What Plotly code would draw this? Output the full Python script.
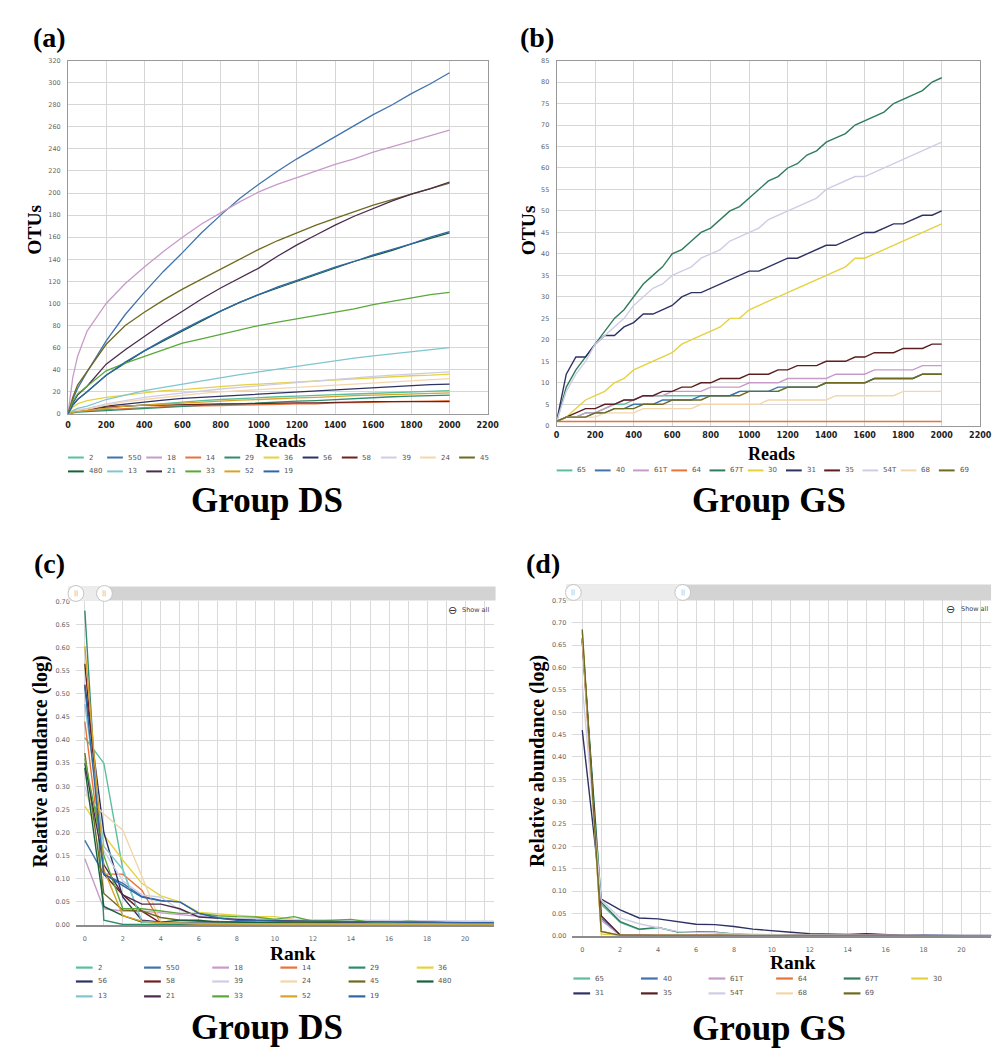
import plotly.graph_objects as go

W, H = 1008, 1050

# ---------------- (a) Group DS rarefaction: OTUs vs reads ----------------
reads_ds = [0, 25, 50, 100, 200, 300, 400, 500, 600, 700, 800, 900, 1000,
            1100, 1200, 1300, 1400, 1500, 1600, 1700, 1800, 1900, 2000]
ds_names = ["2", "550", "18", "14", "29", "36", "56", "58", "39", "24", "45",
            "480", "13", "21", "33", "52", "19"]
ds_colors = ["#5bbf9e", "#3f73ad", "#c79bc9", "#e8733a", "#2f8c6b", "#e5d23f",
             "#2d3263", "#6e2121", "#cfcde6", "#f3d6ab", "#6e6a1f", "#17603a",
             "#7fc6cf", "#4b2b4d", "#5aa83a", "#d8a326", "#2e66a8"]
otu_2 = [0, 1, 2, 3, 5, 7, 8, 9.5, 11, 12, 13, 14, 15, 15.5, 16, 17, 17.5, 18, 18.5, 19, 20, 20.5, 21]
otu_550 = [0, 13, 23, 38, 66, 90, 110, 129, 146, 164, 180, 195, 208, 220, 231, 241, 251, 261, 271, 280, 290, 299, 309]
otu_18 = [0, 33, 52, 75, 100, 118, 133, 147, 160, 172, 182, 192, 201, 208, 214, 220, 226, 231, 237, 242, 247, 252, 257]
otu_14 = [0, 1.5, 2.5, 3, 4, 5, 6, 6.5, 7, 7, 7.5, 8, 8, 8.5, 9, 9, 10, 10, 10.5, 11, 11, 11.5, 12]
otu_29 = [0, 1, 1.5, 2, 3, 4, 5, 6, 7, 8, 8.5, 9, 10, 11, 11.5, 12, 13, 14, 15, 15.5, 16, 16.5, 17]
otu_36 = [0, 6, 9, 12, 15, 17, 19, 21, 22, 23.5, 25, 26, 27, 28, 29, 30, 31, 32, 33, 34, 34.5, 35, 36]
otu_56 = [0, 2, 3, 4, 7, 9, 11, 12.5, 14, 15, 16, 17, 18, 19, 20, 21, 22, 23, 24, 25, 26, 26.5, 27]
otu_58 = [0, 2, 3, 4, 6, 7, 8, 8, 8.5, 9, 9, 9, 9.5, 10, 10, 10, 10.5, 11, 11, 11, 11, 11, 11]
otu_39 = [0, 2, 3.5, 5, 9, 12, 15, 17, 19, 21, 22.5, 24, 25.5, 27, 28.5, 30, 31, 32.5, 34, 35, 36, 37, 38]
otu_24 = [0, 2, 3, 4, 8, 11, 13, 15, 17, 18.5, 20, 21, 22, 23.5, 24.5, 25.5, 26.5, 27.5, 28.5, 29.5, 30.5, 31, 32]
otu_45 = [0, 15, 26, 38, 63, 80, 92, 103, 113, 122, 131, 140, 149, 157, 164, 171, 177, 183, 189, 194, 199, 204, 209]
otu_480 = [0, 8, 13, 20, 35, 46, 57, 66, 75, 84, 93, 101, 108, 114, 120, 126, 132, 138, 143, 148, 154, 159, 164]
otu_13 = [0, 3, 5, 7, 13, 17, 21, 24, 27, 30, 33, 35.5, 38, 40.5, 43, 46, 48.5, 50.5, 52.5, 54.5, 56.5, 58.5, 60]
otu_21 = [0, 10, 17, 25, 45, 58, 70, 82, 93, 104, 114, 123, 132, 143, 153, 162, 171, 179, 186, 193, 199, 204, 210]
otu_33 = [0, 11, 18, 25, 39, 46, 52, 58, 64, 68, 72, 76, 80, 83, 86, 89, 92, 95, 99, 102, 105, 108, 110]
otu_52 = [0, 1.5, 2, 3, 5, 7, 8, 9, 10, 11, 12, 12.5, 13, 14, 14.5, 15, 16, 16.5, 17, 17.5, 18, 18.5, 19]
otu_19 = [0, 8, 13, 20, 35, 47, 57, 67, 76, 85, 93, 101, 108, 115, 121, 127, 133, 138, 144, 149, 154, 160, 165]
ds_otus = [otu_2, otu_550, otu_18, otu_14, otu_29, otu_36, otu_56, otu_58, otu_39,
           otu_24, otu_45, otu_480, otu_13, otu_21, otu_33, otu_52, otu_19]

# ---------------- (b) Group GS rarefaction ----------------
reads_gs = [0, 50, 100, 150, 200, 250, 300, 350, 400, 450, 500, 550, 600, 650, 700,
            750, 800, 850, 900, 950, 1000, 1050, 1100, 1150, 1200, 1250, 1300, 1350,
            1400, 1450, 1500, 1550, 1600, 1650, 1700, 1750, 1800, 1850, 1900, 1950, 2000]
gs_names = ["65", "40", "61T", "64", "67T", "30", "31", "35", "54T", "68", "69"]
gs_colors = ["#5bbf9e", "#3f73ad", "#c79bc9", "#e8733a", "#2f7d5d", "#e5d23f",
             "#2d3263", "#5a1e1e", "#cfcde6", "#f3d6ab", "#6e6a1f"]
gotu_65 = [1, 2, 2, 3, 3, 4, 5, 5, 6, 7, 7, 7, 7, 7, 7, 7, 7, 7, 7, 8, 8, 8, 8, 8, 9, 9, 9, 9, 10, 10, 10, 10, 10, 11, 11, 11, 11, 11, 12, 12, 12]
gotu_40 = [1, 2, 2, 2, 3, 3, 4, 4, 5, 5, 5, 6, 6, 6, 6, 7, 7, 7, 7, 8, 8, 8, 8, 9, 9, 9, 9, 9, 10, 10, 10, 10, 10, 11, 11, 11, 11, 11, 12, 12, 12]
gotu_61T = [1, 2, 2, 3, 3, 4, 5, 6, 6, 7, 7, 7, 8, 8, 8, 8, 9, 9, 9, 9, 10, 10, 10, 10, 11, 11, 11, 11, 11, 12, 12, 12, 12, 13, 13, 13, 13, 13, 14, 14, 14]
gotu_64 = [1, 1, 1, 1, 1, 1, 1, 1, 1, 1, 1, 1, 1, 1, 1, 1, 1, 1, 1, 1, 1, 1, 1, 1, 1, 1, 1, 1, 1, 1, 1, 1, 1, 1, 1, 1, 1, 1, 1, 1, 1]
gotu_67T = [1, 9, 13, 16, 19, 22, 25, 27, 30, 33, 35, 37, 40, 41, 43, 45, 46, 48, 50, 51, 53, 55, 57, 58, 60, 61, 63, 64, 66, 67, 68, 70, 71, 72, 73, 75, 76, 77, 78, 80, 81]
gotu_30 = [1, 2, 4, 6, 7, 8, 10, 11, 13, 14, 15, 16, 17, 19, 20, 21, 22, 23, 25, 25, 27, 28, 29, 30, 31, 32, 33, 34, 35, 36, 37, 39, 39, 40, 41, 42, 43, 44, 45, 46, 47]
gotu_31 = [1, 12, 16, 16, 19, 21, 21, 23, 24, 26, 26, 27, 28, 30, 31, 31, 32, 33, 34, 35, 36, 36, 37, 38, 39, 39, 40, 41, 42, 42, 43, 44, 45, 45, 46, 47, 47, 48, 49, 49, 50]
gotu_35 = [1, 2, 3, 4, 4, 5, 5, 6, 6, 7, 7, 8, 8, 9, 9, 10, 10, 11, 11, 11, 12, 12, 12, 13, 13, 14, 14, 14, 15, 15, 15, 16, 16, 17, 17, 17, 18, 18, 18, 19, 19]
gotu_54T = [1, 8, 12, 15, 19, 21, 23, 25, 28, 30, 32, 33, 35, 36, 37, 39, 40, 41, 43, 44, 45, 46, 48, 49, 50, 51, 52, 53, 55, 56, 57, 58, 58, 59, 60, 61, 62, 63, 64, 65, 66]
gotu_68 = [1, 2, 2, 2, 2, 3, 3, 3, 3, 4, 4, 4, 4, 4, 4, 5, 5, 5, 5, 5, 5, 5, 6, 6, 6, 6, 6, 6, 6, 7, 7, 7, 7, 7, 7, 7, 8, 8, 8, 8, 8]
gotu_69 = [1, 2, 2, 2, 3, 3, 4, 4, 4, 5, 5, 5, 6, 6, 6, 6, 7, 7, 7, 7, 8, 8, 8, 8, 9, 9, 9, 9, 10, 10, 10, 10, 10, 11, 11, 11, 11, 11, 12, 12, 12]
gs_otus = [gotu_65, gotu_40, gotu_61T, gotu_64, gotu_67T, gotu_30, gotu_31,
           gotu_35, gotu_54T, gotu_68, gotu_69]

# ---------------- (c) Group DS rank-abundance ----------------
rank = [0, 1, 2, 3, 4, 5, 6, 7, 8, 9, 10, 11, 12, 13, 14, 15, 16, 17, 18, 19, 20, 21, 22]
ra_2 = [0.405, 0.350, 0.120, 0.006, 0.004, 0.003, 0.003, 0.002, 0.002, 0.002, 0.002, 0.001, 0.001, 0.001, 0.001, 0.001, 0.001, 0.001, 0.001, 0.001, 0.001, 0.001, 0.001]
ra_550 = [0.183, 0.110, 0.090, 0.062, 0.053, 0.050, 0.025, 0.016, 0.012, 0.010, 0.009, 0.008, 0.008, 0.007, 0.007, 0.006, 0.006, 0.006, 0.005, 0.005, 0.005, 0.005, 0.005]
ra_18 = [0.143, 0.035, 0.030, 0.030, 0.026, 0.022, 0.018, 0.015, 0.013, 0.012, 0.011, 0.010, 0.010, 0.009, 0.009, 0.008, 0.008, 0.008, 0.008, 0.007, 0.007, 0.007, 0.007]
ra_14 = [0.440, 0.110, 0.110, 0.075, 0.004, 0.003, 0.002, 0.002, 0.002, 0.001, 0.001, 0.001, 0.001, 0.001, 0.001, 0.001, 0.001, 0.001, 0.001, 0.001, 0.001, 0.001, 0.001]
ra_29 = [0.680, 0.010, 0.001, 0.001, 0.001, 0.001, 0.001, 0.001, 0.001, 0.001, 0.001, 0.001, 0.001, 0.001, 0.001, 0.001, 0.001, 0.001, 0.001, 0.001, 0.001, 0.001, 0.001]
ra_36 = [0.257, 0.195, 0.140, 0.090, 0.063, 0.050, 0.027, 0.024, 0.020, 0.018, 0.018, 0.012, 0.010, 0.009, 0.008, 0.007, 0.006, 0.006, 0.005, 0.005, 0.005, 0.004, 0.004]
ra_56 = [0.520, 0.200, 0.060, 0.010, 0.006, 0.005, 0.005, 0.005, 0.004, 0.004, 0.004, 0.004, 0.004, 0.004, 0.004, 0.003, 0.003, 0.003, 0.003, 0.003, 0.003, 0.003, 0.003]
ra_58 = [0.565, 0.110, 0.065, 0.030, 0.004, 0.003, 0.003, 0.002, 0.002, 0.002, 0.002, 0.002, 0.002, 0.002, 0.002, 0.002, 0.002, 0.002, 0.002, 0.002, 0.002, 0.002, 0.002]
ra_39 = [0.300, 0.160, 0.095, 0.065, 0.060, 0.032, 0.020, 0.016, 0.014, 0.013, 0.012, 0.011, 0.011, 0.010, 0.010, 0.010, 0.009, 0.009, 0.009, 0.008, 0.008, 0.008, 0.008]
ra_24 = [0.283, 0.240, 0.205, 0.105, 0.005, 0.004, 0.003, 0.003, 0.003, 0.002, 0.002, 0.002, 0.002, 0.002, 0.002, 0.002, 0.002, 0.002, 0.002, 0.002, 0.002, 0.002, 0.002]
ra_45 = [0.372, 0.068, 0.032, 0.030, 0.016, 0.010, 0.008, 0.007, 0.006, 0.006, 0.005, 0.005, 0.005, 0.004, 0.004, 0.004, 0.004, 0.004, 0.004, 0.004, 0.003, 0.003, 0.003]
ra_480 = [0.340, 0.040, 0.020, 0.006, 0.006, 0.010, 0.010, 0.006, 0.006, 0.005, 0.004, 0.004, 0.004, 0.004, 0.004, 0.004, 0.004, 0.004, 0.003, 0.003, 0.003, 0.003, 0.003]
ra_13 = [0.478, 0.170, 0.120, 0.006, 0.004, 0.003, 0.003, 0.003, 0.002, 0.002, 0.002, 0.002, 0.002, 0.002, 0.002, 0.002, 0.002, 0.002, 0.002, 0.002, 0.002, 0.002, 0.002]
ra_21 = [0.350, 0.130, 0.065, 0.045, 0.045, 0.035, 0.017, 0.014, 0.012, 0.010, 0.009, 0.008, 0.008, 0.007, 0.007, 0.006, 0.006, 0.006, 0.005, 0.005, 0.005, 0.005, 0.005]
ra_33 = [0.360, 0.150, 0.035, 0.035, 0.030, 0.025, 0.025, 0.020, 0.018, 0.017, 0.012, 0.018, 0.008, 0.010, 0.012, 0.006, 0.005, 0.008, 0.006, 0.005, 0.005, 0.005, 0.005]
ra_52 = [0.603, 0.120, 0.020, 0.008, 0.005, 0.003, 0.002, 0.002, 0.002, 0.002, 0.002, 0.002, 0.002, 0.002, 0.002, 0.002, 0.002, 0.002, 0.002, 0.002, 0.002, 0.002, 0.002]
ra_19 = [0.515, 0.110, 0.085, 0.060, 0.052, 0.050, 0.025, 0.015, 0.010, 0.009, 0.008, 0.008, 0.008, 0.007, 0.007, 0.007, 0.006, 0.006, 0.006, 0.005, 0.005, 0.005, 0.005]
ds_ra = [ra_2, ra_550, ra_18, ra_14, ra_29, ra_36, ra_56, ra_58, ra_39, ra_24,
         ra_45, ra_480, ra_13, ra_21, ra_33, ra_52, ra_19]

# ---------------- (d) Group GS rank-abundance ----------------
gra_65 = [0.660, 0.070, 0.030, 0.014, 0.018, 0.009, 0.009, 0.008, 0.003, 0.002, 0.001, 0.001, 0.001, 0.001, 0.001, 0.001, 0.001, 0, 0, 0, 0, 0, 0]
gra_40 = [0.660, 0.040, 0.001, 0.001, 0.001, 0.001, 0.001, 0.001, 0.001, 0, 0, 0, 0, 0, 0, 0, 0, 0, 0, 0, 0, 0, 0]
gra_61T = [0.665, 0.035, 0.001, 0.001, 0.001, 0.001, 0.001, 0.001, 0.001, 0, 0, 0, 0, 0, 0, 0, 0, 0, 0, 0, 0, 0, 0]
gra_64 = [0.660, 0.010, 0.001, 0.001, 0.001, 0.001, 0.001, 0, 0, 0, 0, 0, 0, 0, 0, 0, 0, 0, 0, 0, 0, 0, 0]
gra_67T = [0.665, 0.075, 0.032, 0.015, 0.019, 0.009, 0.009, 0.008, 0.004, 0.002, 0.001, 0.001, 0.001, 0.001, 0.001, 0.001, 0.001, 0, 0, 0, 0, 0, 0]
gra_30 = [0.680, 0.004, 0.001, 0.001, 0.001, 0.001, 0, 0, 0, 0, 0, 0, 0, 0, 0, 0, 0, 0, 0, 0, 0, 0, 0]
gra_31 = [0.460, 0.082, 0.058, 0.040, 0.038, 0.032, 0.026, 0.025, 0.021, 0.015, 0.011, 0.008, 0.005, 0.004, 0.003, 0.005, 0.003, 0.001, 0.002, 0.001, 0.001, 0.001, 0.001]
gra_35 = [0.665, 0.045, 0.002, 0.001, 0.001, 0.001, 0.001, 0.001, 0.001, 0.001, 0.001, 0.001, 0.001, 0.001, 0.002, 0.003, 0.002, 0.001, 0, 0, 0, 0, 0]
gra_54T = [0.560, 0.080, 0.040, 0.027, 0.018, 0.010, 0.008, 0.007, 0.004, 0.003, 0.002, 0.002, 0.002, 0.002, 0.002, 0.002, 0.002, 0.001, 0.001, 0.001, 0.001, 0.001, 0.001]
gra_68 = [0.665, 0.010, 0.001, 0.001, 0.001, 0.001, 0, 0, 0, 0, 0, 0, 0, 0, 0, 0, 0, 0, 0, 0, 0, 0, 0]
gra_69 = [0.685, 0.010, 0.001, 0.001, 0.001, 0.001, 0, 0, 0, 0, 0, 0, 0, 0, 0, 0, 0, 0, 0, 0, 0, 0, 0]
gs_ra = [gra_65, gra_40, gra_61T, gra_64, gra_67T, gra_30, gra_31, gra_35,
         gra_54T, gra_68, gra_69]

# ---------------- helpers ----------------
def fx(p):
    return p / W


def fy(p):
    return 1 - p / H


SERIF = "Liberation Serif"
SANS = "DejaVu Sans"

fig = go.Figure()

for n, c, v in zip(ds_names, ds_colors, ds_otus):
    fig.add_trace(go.Scatter(x=reads_ds, y=v, name=n, mode="lines", showlegend=False,
                             line=dict(color=c, width=1.3), xaxis="x", yaxis="y"))
for n, c, v in zip(gs_names, gs_colors, gs_otus):
    fig.add_trace(go.Scatter(x=reads_gs, y=v, name=n, mode="lines", showlegend=False,
                             line=dict(color=c, width=1.4), xaxis="x2", yaxis="y2"))
for n, c, v in zip(ds_names, ds_colors, ds_ra):
    fig.add_trace(go.Scatter(x=rank, y=v, name=n, mode="lines", showlegend=False,
                             line=dict(color=c, width=1.4), xaxis="x3", yaxis="y3"))
for n, c, v in zip(gs_names, gs_colors, gs_ra):
    fig.add_trace(go.Scatter(x=rank, y=v, name=n, mode="lines", showlegend=False,
                             line=dict(color=c, width=1.4), xaxis="x4", yaxis="y4"))

grid = "#d6d6d6"
tick_y = dict(family=SANS, size=6.5, color="#666")
tick_x = dict(family=SANS, size=8, color="#222", weight="bold")
tick_small = dict(family=SANS, size=6.5, color="#666")

fig.update_layout(
    width=W, height=H, margin=dict(l=0, r=0, t=0, b=0),
    paper_bgcolor="white", plot_bgcolor="white", showlegend=False,
    xaxis=dict(domain=[fx(66), fx(492)], range=[0, 2200], dtick=200, tick0=0,
               showgrid=True, gridcolor=grid, zeroline=False, showline=True,
               linecolor="#999", mirror=True, tickfont=tick_x, anchor="y",
               ticks="", ticklabelstandoff=4),
    yaxis=dict(domain=[fy(413), fy(57)], range=[0, 320], dtick=20, tick0=0,
               showgrid=True, gridcolor=grid, zeroline=False, showline=True,
               linecolor="#999", mirror=True, tickfont=tick_y, anchor="x",
               ticks="", ticklabelstandoff=5),
    xaxis2=dict(domain=[fx(562), fx(992)], range=[0, 2200], dtick=200, tick0=0,
                showgrid=True, gridcolor=grid, zeroline=False, showline=True,
                linecolor="#999", mirror=True, tickfont=tick_x, anchor="y2",
                ticks="", ticklabelstandoff=2),
    yaxis2=dict(domain=[fy(425), fy(57)], range=[0, 85], dtick=5, tick0=0,
                showgrid=True, gridcolor=grid, zeroline=False, showline=True,
                linecolor="#999", mirror=True, tickfont=tick_y, anchor="x2",
                ticks="", ticklabelstandoff=5),
    xaxis3=dict(domain=[fx(74), fx(498)], range=[-0.47, 21.5], dtick=2, tick0=0,
                showgrid=True, gridcolor="#dadada", gridwidth=1.2, zeroline=False,
                showline=True, linecolor="#8c8c8c", linewidth=2,
                minor=dict(dtick=1, showgrid=True, gridcolor="#dadada", gridwidth=1.2),
                tickfont=tick_small, anchor="y3", ticks="", ticklabelstandoff=6),
    yaxis3=dict(domain=[fy(928), fy(602)], range=[0, 0.70], dtick=0.05, tick0=0,
                tickformat=".2f", showgrid=True, gridcolor="#dadada", gridwidth=1.2,
                zeroline=False, showline=False, tickfont=tick_small, anchor="x3",
                ticks="", ticklabelstandoff=5),
    xaxis4=dict(domain=[fx(578), fx(1003)], range=[-0.52, 21.56], dtick=2, tick0=0,
                showgrid=True, gridcolor="#dadada", gridwidth=1.2, zeroline=False,
                showline=True, linecolor="#8c8c8c", linewidth=2,
                minor=dict(dtick=1, showgrid=True, gridcolor="#dadada", gridwidth=1.2),
                tickfont=tick_small, anchor="y4", ticks="", ticklabelstandoff=6),
    yaxis4=dict(domain=[fy(939), fy(601)], range=[0, 0.75], dtick=0.05, tick0=0,
                tickformat=".2f", showgrid=True, gridcolor="#dadada", gridwidth=1.2,
                zeroline=False, showline=False, tickfont=tick_small, anchor="x4",
                ticks="", ticklabelstandoff=5),
)


# ---------------- text ----------------
def text(t, x, y, size, angle=0, family=SERIF, color="black", weight="bold",
         xanchor="center"):
    fig.add_annotation(text=t, x=fx(x), y=fy(y), xref="paper", yref="paper",
                       showarrow=False, textangle=angle, xanchor=xanchor,
                       yanchor="middle", borderpad=0,
                       font=dict(family=family, size=size, color=color, weight=weight))


text("(a)", 47, 34, 28)
text("(b)", 542, 34, 28)
text("(c)", 47, 564, 28)
text("(d)", 548, 564, 28)
text("OTUs", 32, 228, 19.5, angle=-90)
text("OTUs", 533, 228, 19.5, angle=-90)
text("Reads", 282, 440, 19.5)
text("Reads", 780, 453, 18)
text("Group DS", 268, 500, 35)
text("Group GS", 778, 500, 35)
text("Relative abundance (log)", 38, 763, 20, angle=-90)
text("Relative abundance (log)", 542, 763, 20, angle=-90)
text("Rank", 294, 957, 19.5)
text("Rank", 802, 966, 19.5)
text("Group DS", 268, 1031, 35)
text("Group GS", 778, 1032, 35)


# ---------------- legends (swatch + label per series) ----------------
def legend_rows(names, colors, x0, spacing, rows_y, per_row, swatch, lw):
    for i, (n, c) in enumerate(zip(names, colors)):
        r, k = divmod(i, per_row)
        xs = x0 + k * spacing
        yy = rows_y[r]
        fig.add_shape(type="line", xref="paper", yref="paper",
                      x0=fx(xs), x1=fx(xs + swatch), y0=fy(yy), y1=fy(yy),
                      line=dict(color=c, width=lw))
        text(n, xs + swatch + 4, yy, 7, family=SANS, color="#555",
             weight="normal", xanchor="left")


legend_rows(ds_names, ds_colors, 66, 39.7, [457, 471], 11, 16, 2)
legend_rows(gs_names, gs_colors, 562, 38.8, [470], 11, 16, 2)
legend_rows(ds_names, ds_colors, 74, 69.2, [971, 985, 1000], 6, 17, 2.2)
legend_rows(gs_names, gs_colors, 579, 68.6, [982, 997], 6, 17, 2.2)


# ---------------- zoom slider decorations and "Show all" ----------------
def slider(x0, x1, xs, y0, y1, handles):
    fig.add_shape(type="rect", xref="paper", yref="paper", x0=fx(x0), x1=fx(x1),
                  y0=fy(y1), y1=fy(y0), fillcolor="#d3d3d3", line=dict(width=0),
                  layer="above")
    fig.add_shape(type="rect", xref="paper", yref="paper", x0=fx(x0), x1=fx(xs),
                  y0=fy(y1), y1=fy(y0), fillcolor="#ececec", line=dict(width=0),
                  layer="above")
    yc = (y0 + y1) / 2
    for hx in handles:
        fig.add_shape(type="circle", xref="paper", yref="paper",
                      x0=fx(hx - 8), x1=fx(hx + 8), y0=fy(yc + 8), y1=fy(yc - 8),
                      fillcolor="white", line=dict(color="#c4c4c4", width=1),
                      layer="above")
        text("||", hx, yc, 6, family=SANS, color="#999", weight="normal")


slider(66, 500, 103, 587, 601, [74, 103])
slider(572, 1003, 690, 585, 601, [579, 690])

text("⊖", 456, 611, 11, family=SANS, color="#333", weight="normal")
text("Show all", 480, 611, 6.5, family=SANS, color="#444", weight="normal")
text("⊖", 962, 610, 11, family=SANS, color="#333", weight="normal")
text("Show all", 986, 610, 6.5, family=SANS, color="#444", weight="normal")

fig.write_html("out.html")
